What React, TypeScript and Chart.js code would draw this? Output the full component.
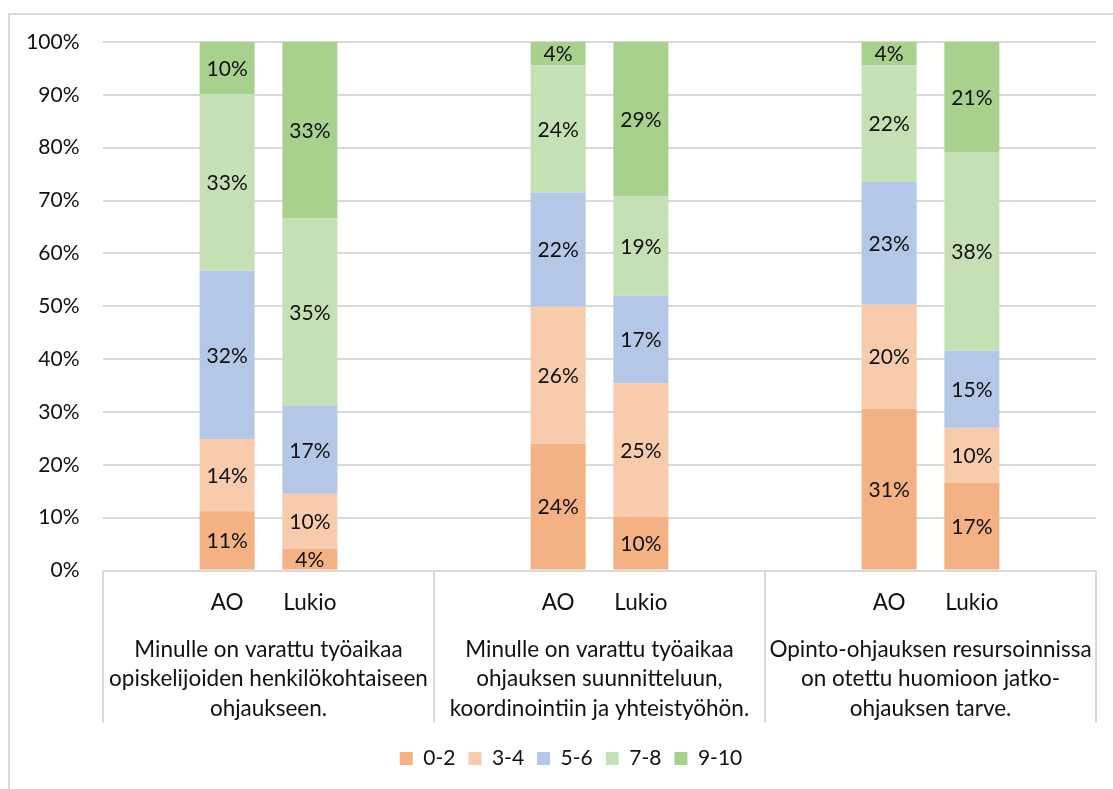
import React, { useEffect, useRef } from "react";
import { Chart, registerables } from "chart.js";

Chart.register(...registerables);

// ---- data ----
const categories = ["", "AO", "Lukio", "", "", "AO", "Lukio", "", "", "AO", "Lukio", ""];
const groupLabels = [
  ["Minulle on varattu työaikaa", "opiskelijoiden henkilökohtaiseen", "ohjaukseen."],
  ["Minulle on varattu työaikaa", "ohjauksen suunnitteluun,", "koordinointiin ja yhteistyöhön."],
  ["Opinto-ohjauksen resursoinnissa", "on otettu huomioon jatko-", "ohjauksen tarve."],
];
const seriesNames = ["0-2", "3-4", "5-6", "7-8", "9-10"];
const v0_2 = [null, 11.2, 4.1, null, null, 24.0, 10.1, null, null, 30.6, 16.6, null];
const v3_4 = [null, 13.7, 10.4, null, null, 25.9, 25.3, null, null, 19.7, 10.4, null];
const v5_6 = [null, 31.8, 16.7, null, null, 21.6, 16.6, null, null, 23.2, 14.6, null];
const v7_8 = [null, 33.4, 35.4, null, null, 24.1, 18.8, null, null, 22.1, 37.6, null];
const v9_10 = [null, 9.9, 33.4, null, null, 4.4, 29.2, null, null, 4.4, 20.8, null];
const seriesValues = [v0_2, v3_4, v5_6, v7_8, v9_10];
const seriesColors = ["#F4B183", "#F8CBAD", "#B4C7E7", "#C5E0B4", "#A9D18E"];
const yMin = 0;
const yMax = 100;
const yStep = 10;

const FONT = "Lato";
const NUM_SIZE = 21;
const TEXT_SIZE = 22.5;
const TEXT_COLOR = "#111111";
const GRID_COLOR = "#D9D9D9";
const SLOTS_PER_GROUP = 4;

const dataLabelPlugin = {
  id: "dataLabels",
  afterDatasetsDraw(chart: any) {
    const ctx = chart.ctx;
    ctx.save();
    ctx.font = `${NUM_SIZE}px ${FONT}`;
    ctx.fillStyle = TEXT_COLOR;
    ctx.textAlign = "center";
    ctx.textBaseline = "middle";
    chart.data.datasets.forEach((ds: any, di: number) => {
      const meta = chart.getDatasetMeta(di);
      if (meta.hidden) return;
      meta.data.forEach((el: any, i: number) => {
        const v = ds.data[i];
        if (v === null || v === undefined) return;
        const yc = (el.y + el.base) / 2;
        ctx.fillText(`${Number(v).toFixed(0)}%`, el.x, yc + 1);
      });
    });
    ctx.restore();
  },
};

const groupAxisPlugin = {
  id: "groupAxis",
  afterLayout(chart: any) {
    if (chart.legend) {
      chart.legend.right += 46;
    }
  },
  beforeDraw(chart: any) {
    const ctx = chart.ctx;
    ctx.save();
    ctx.strokeStyle = GRID_COLOR;
    ctx.lineWidth = 2;
    ctx.beginPath();
    ctx.moveTo(9, chart.height);
    ctx.lineTo(9, 14);
    ctx.lineTo(chart.width, 14);
    ctx.stroke();
    ctx.restore();
  },
  afterDraw(chart: any) {
    const ctx = chart.ctx;
    const xs = chart.scales.x;
    const area = chart.chartArea;
    const slotW = (xs.right - xs.left) / categories.length;
    const nGroups = categories.length / SLOTS_PER_GROUP;
    ctx.save();
    ctx.strokeStyle = GRID_COLOR;
    ctx.lineWidth = 2;
    for (let g = 0; g <= nGroups; g++) {
      const idx = g * SLOTS_PER_GROUP;
      const x =
        idx < categories.length
          ? xs.getPixelForValue(idx) - slotW / 2
          : xs.getPixelForValue(categories.length - 1) + slotW / 2;
      ctx.beginPath();
      ctx.moveTo(Math.round(x), area.bottom);
      ctx.lineTo(Math.round(x), area.bottom + 152);
      ctx.stroke();
    }
    ctx.font = `${TEXT_SIZE}px ${FONT}`;
    ctx.fillStyle = TEXT_COLOR;
    ctx.textAlign = "center";
    ctx.textBaseline = "middle";
    groupLabels.forEach((lines, g) => {
      const a = xs.getPixelForValue(g * SLOTS_PER_GROUP);
      const b = xs.getPixelForValue(g * SLOTS_PER_GROUP + SLOTS_PER_GROUP - 1);
      const cx = (a + b) / 2;
      lines.forEach((line, li) => {
        ctx.fillText(line, cx, area.bottom + 79 + li * 29.5);
      });
    });
    ctx.restore();
  },
};

export default function App() {
  const canvasRef = useRef<HTMLCanvasElement | null>(null);

  useEffect(() => {
    if (!canvasRef.current) return;
    const chart = new Chart(canvasRef.current, {
      type: "bar",
      data: {
        labels: categories,
        datasets: seriesNames.map((name, i) => ({
          label: name,
          data: seriesValues[i],
          backgroundColor: seriesColors[i],
          borderWidth: 0,
          barPercentage: 0.665,
          categoryPercentage: 1,
        })),
      },
      options: {
        responsive: false,
        animation: false,
        devicePixelRatio: 1,
        layout: { padding: { top: 42, right: 17, bottom: 10, left: 0 } },
        plugins: {
          legend: {
            position: "bottom",
            labels: {
              boxWidth: 13,
              boxHeight: 13,
              padding: 13,
              color: TEXT_COLOR,
              font: { family: FONT, size: NUM_SIZE },
            },
          },
          tooltip: { enabled: false },
          title: { display: false },
        },
        scales: {
          x: {
            stacked: true,
            offset: true,
            grid: { display: false, drawTicks: false },
            border: { display: false },
            ticks: {
              padding: 18.5,
              color: TEXT_COLOR,
              font: { family: FONT, size: TEXT_SIZE },
              maxRotation: 0,
              autoSkip: false,
            },
            afterFit: (scale: any) => {
              scale.height = 164.5;
            },
          },
          y: {
            stacked: true,
            min: yMin,
            max: yMax,
            ticks: {
              stepSize: yStep,
              padding: 23.5,
              color: TEXT_COLOR,
              font: { family: FONT, size: NUM_SIZE },
              callback: (v: any) => `${v}%`,
            },
            grid: { color: GRID_COLOR, lineWidth: 2, drawTicks: false },
            border: { display: false },
            afterFit: (scale: any) => {
              scale.width = 103;
            },
          },
        },
      },
      plugins: [dataLabelPlugin, groupAxisPlugin],
    } as any);
    return () => chart.destroy();
  }, []);

  return (
    <div style={{ position: "fixed", left: 0, top: 0, width: 1113, height: 789, background: "#fff" }}>
      <canvas ref={canvasRef} width={1113} height={789} style={{ display: "block" }} />
    </div>
  );
}
